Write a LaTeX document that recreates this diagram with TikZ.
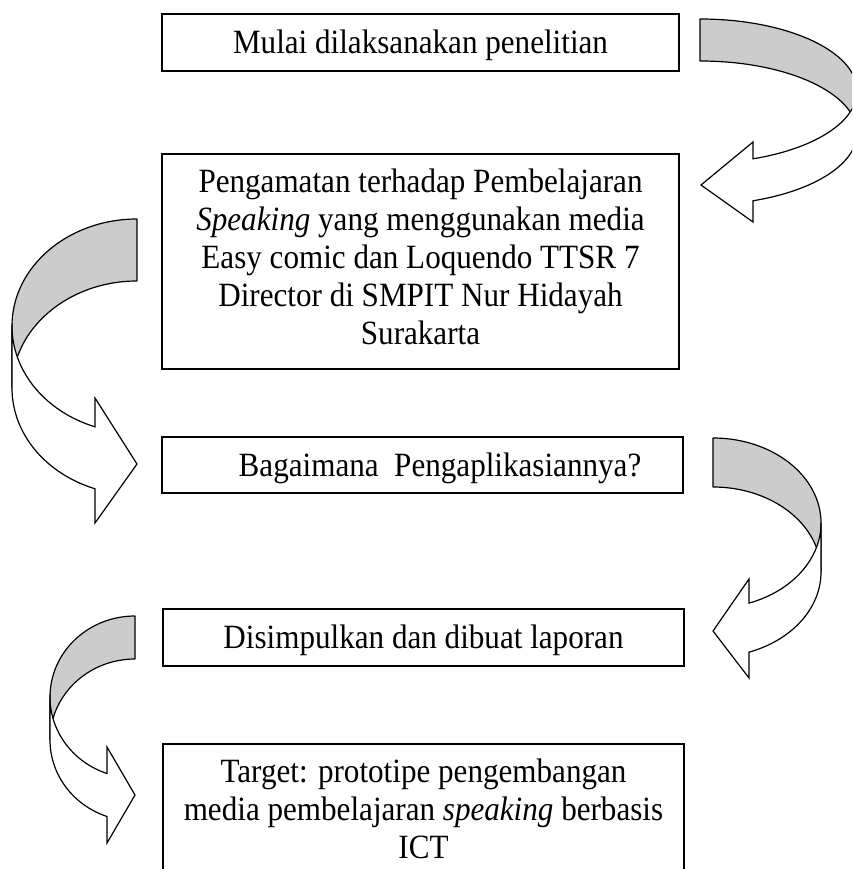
\documentclass[tikz,border=0pt]{standalone}
\usepackage{fontspec}
\setmainfont{Liberation Serif}[FakeStretch=0.915]
\definecolor{bandgray}{RGB}{204,204,204}
\newcommand{\fstrut}{\rule{0pt}{30.3pt}}
\begin{document}
\begin{tikzpicture}[x=1pt,y=-1pt,
  box/.style={draw, line width=1.4pt, inner sep=0pt, minimum width=517pt},
  txt/.style={inner sep=0pt, align=center, anchor=north, font=\fontsize{34}{38}\selectfont},
  back/.style={fill=bandgray, draw, line width=1.2pt, line join=round},
  front/.style={fill=white, draw, line width=1.2pt, line join=miter}]
\useasboundingbox (0,0) rectangle (852,869);
\clip (0,0) rectangle (852,869);

% boxes
\node[box, minimum height=57pt] (b1) at (420.5,42.5) {};
\node[box, minimum height=215pt] (b2) at (420.5,261.5) {};
\node[box, minimum width=521pt, minimum height=56pt] (b3) at (422.5,465) {};
\node[box, minimum width=521pt, minimum height=57pt] (b4) at (423.5,637.5) {};
\node[box, minimum width=521pt, minimum height=140pt] (b5) at (423.5,814) {};

% texts
\node[txt] (t1) at (420.5,23) {\fstrut Mulai dilaksanakan penelitian};
\node[txt] (t2) at (420.5,162) {\fstrut Pengamatan terhadap Pembelajaran\\
  \textit{Speaking} yang menggunakan media\\
  Easy comic dan Loquendo TTSR 7\\
  Director di SMPIT Nur Hidayah\\
  Surakarta};
\node[txt] (t3) at (440,446) {\fstrut Bagaimana\ \ Pengaplikasiannya?};
\node[txt] (t4) at (423.5,618) {\fstrut Disimpulkan dan dibuat laporan};
\node[txt] (t5) at (423.5,752) {\fstrut Target: prototipe pengembangan\\
  media pembelajaran \textit{speaking} berbasis\\
  ICT};

% arrow 1 (top right, turning left)
\draw[back] (700,19) arc[start angle=270, end angle=360, x radius=157, y radius=72]
  -- (857,133) arc[start angle=0, end angle=-90, x radius=157, y radius=72] -- cycle;
\draw[front] (857,91) -- (857,133) arc[start angle=0, end angle=70.27, x radius=157, y radius=72]
  -- (753,222) -- (701,185) -- (753,142) -- (753,158.8)
  arc[start angle=70.27, end angle=0, x radius=157, y radius=72] -- cycle;

% arrow 2 (left, turning right)
\draw[back] (137,219) arc[start angle=270, end angle=180, x radius=125, y radius=107]
  -- (12,388) arc[start angle=180, end angle=270, x radius=125, y radius=107] -- cycle;
\draw[front] (12,326) -- (12,388) arc[start angle=180, end angle=109.63, x radius=125, y radius=107]
  -- (95,523) -- (137,464) -- (95,398) -- (95,426.8)
  arc[start angle=109.63, end angle=180, x radius=125, y radius=107] -- cycle;

% arrow 3 (right middle, turning left)
\draw[back] (713,438) arc[start angle=270, end angle=360, x radius=108, y radius=85]
  -- (821,572) arc[start angle=0, end angle=-90, x radius=108, y radius=85] -- cycle;
\draw[front] (821,523) -- (821,572) arc[start angle=0, end angle=70.53, x radius=108, y radius=85]
  -- (749,678) -- (713,631) -- (749,579) -- (749,603.1)
  arc[start angle=70.53, end angle=0, x radius=108, y radius=85] -- cycle;

% arrow 4 (bottom left, turning right)
\draw[back] (135,616) arc[start angle=270, end angle=180, x radius=85, y radius=81]
  -- (50,740) arc[start angle=180, end angle=270, x radius=85, y radius=81] -- cycle;
\draw[front] (50,697) -- (50,740) arc[start angle=180, end angle=109.23, x radius=85, y radius=81]
  -- (107,843) -- (135,795) -- (107,747) -- (107,773.5)
  arc[start angle=109.23, end angle=180, x radius=85, y radius=81] -- cycle;
\end{tikzpicture}
\end{document}
